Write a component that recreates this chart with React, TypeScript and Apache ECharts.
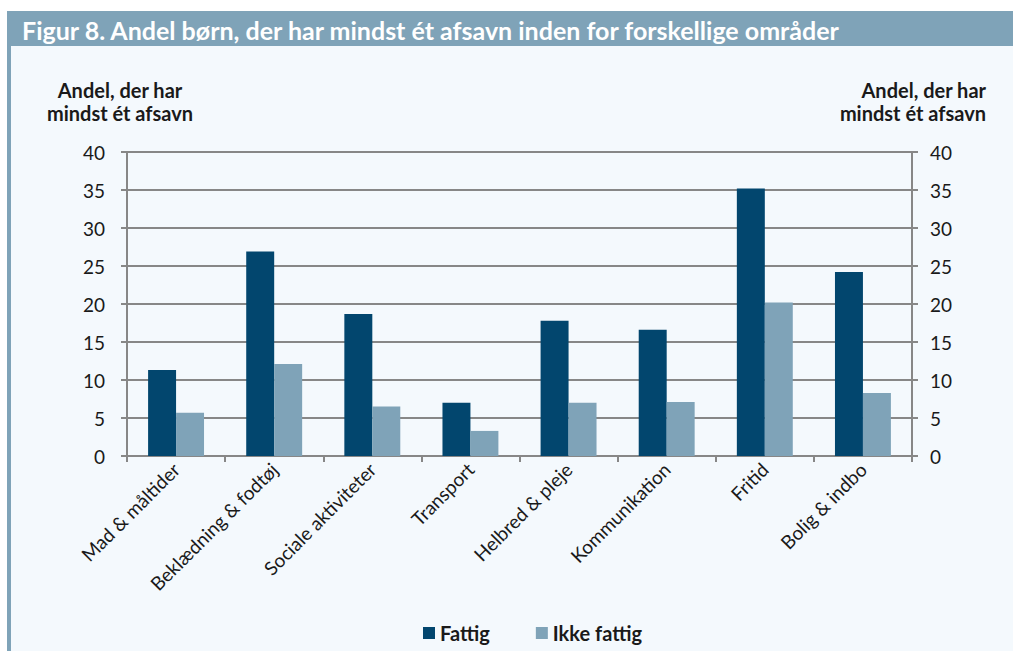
import React, { useEffect, useRef } from "react";
import * as echarts from "echarts";

const categories = [
  "Mad & måltider",
  "Beklædning & fodtøj",
  "Sociale aktiviteter",
  "Transport",
  "Helbred & pleje",
  "Kommunikation",
  "Fritid",
  "Bolig & indbo",
];
const fattig = [11.3, 26.9, 18.7, 7.0, 17.8, 16.6, 35.2, 24.2];
const ikkeFattig = [5.7, 12.1, 6.5, 3.3, 7.0, 7.1, 20.2, 8.3];
const seriesNames = ["Fattig", "Ikke fattig"];
const titleText = "Figur 8. Andel børn, der har mindst ét afsavn inden for forskellige områder";
const axisNameLines = ["Andel, der har", "mindst ét afsavn"];

const FONT = "Lato, 'Open Sans', sans-serif";
const GRID = "#878787";
const TEXT = "#1a1a1a";

export default function App() {
  const ref = useRef<HTMLDivElement>(null);
  useEffect(() => {
    if (!ref.current) return;
    const chart = echarts.init(ref.current, null, { renderer: "svg" });
    const yAxisBase = {
      type: "value",
      min: 0,
      max: 40,
      interval: 5,
      axisLine: { show: true, lineStyle: { color: GRID, width: 2 } },
      axisTick: { show: true, length: 6, lineStyle: { color: GRID, width: 2 } },
      splitLine: { show: true, lineStyle: { color: GRID, width: 2 } },
      axisLabel: { fontSize: 19, color: TEXT, fontFamily: FONT, margin: 22 },
    };
    chart.setOption({
      animation: false,
      backgroundColor: "#f4f9fd",
      textStyle: { fontFamily: FONT },
      graphic: [
        { type: "rect", shape: { x: 0, y: 0, width: 1013, height: 11 }, style: { fill: "#ffffff" }, silent: true },
        { type: "rect", shape: { x: 0, y: 0, width: 7, height: 651 }, style: { fill: "#ffffff" }, silent: true },
        { type: "rect", shape: { x: 7, y: 11, width: 1006, height: 35 }, style: { fill: "#7fa3b8" }, silent: true },
        { type: "rect", shape: { x: 7, y: 11, width: 4, height: 640 }, style: { fill: "#7fa3b8" }, silent: true },
        {
          type: "text",
          x: 22,
          y: 30,
          style: {
            text: titleText,
            fill: "#ffffff",
            font: `bold 25px ${FONT}`,
            verticalAlign: "middle",
            align: "left",
          },
        },
        {
          type: "text",
          x: 120,
          y: 101,
          style: {
            text: axisNameLines.join("\n"),
            fill: TEXT,
            font: `bold 20px ${FONT}`,
            lineHeight: 23,
            verticalAlign: "middle",
            align: "center",
          },
        },
        {
          type: "text",
          x: 986,
          y: 101,
          style: {
            text: axisNameLines.join("\n"),
            fill: TEXT,
            font: `bold 20px ${FONT}`,
            lineHeight: 23,
            verticalAlign: "middle",
            align: "right",
          },
        },
      ],
      grid: { left: 127, right: 101, top: 152, height: 304 },
      legend: {
        data: seriesNames,
        left: 418,
        top: 618,
        icon: "rect",
        itemWidth: 12,
        itemHeight: 12,
        itemGap: 46,
        textStyle: { fontSize: 20, fontWeight: "bold", color: TEXT, fontFamily: FONT },
      },
      xAxis: {
        type: "category",
        data: categories,
        axisLine: { show: true, lineStyle: { color: GRID, width: 2 } },
        axisTick: { show: true, length: 6, alignWithLabel: false, lineStyle: { color: GRID, width: 2 } },
        axisLabel: { rotate: 45, fontSize: 19, color: TEXT, fontFamily: FONT, margin: 10, interval: 0 },
      },
      yAxis: [
        { ...yAxisBase, position: "left" },
        { ...yAxisBase, position: "right", splitLine: { show: false }, axisLabel: { ...yAxisBase.axisLabel, margin: 18 } },
      ],
      series: [
        {
          name: seriesNames[0],
          type: "bar",
          data: fattig,
          itemStyle: { color: "#02466e" },
          barGap: "0%",
          barCategoryGap: "43%",
        },
        {
          name: seriesNames[1],
          type: "bar",
          data: ikkeFattig,
          itemStyle: { color: "#7fa3b8" },
          barGap: "0%",
          barCategoryGap: "43%",
        },
      ],
    });
    return () => chart.dispose();
  }, []);
  return (
    <div
      ref={ref}
      style={{ position: "absolute", left: 0, top: 0, width: 1013, height: 651 }}
    />
  );
}
